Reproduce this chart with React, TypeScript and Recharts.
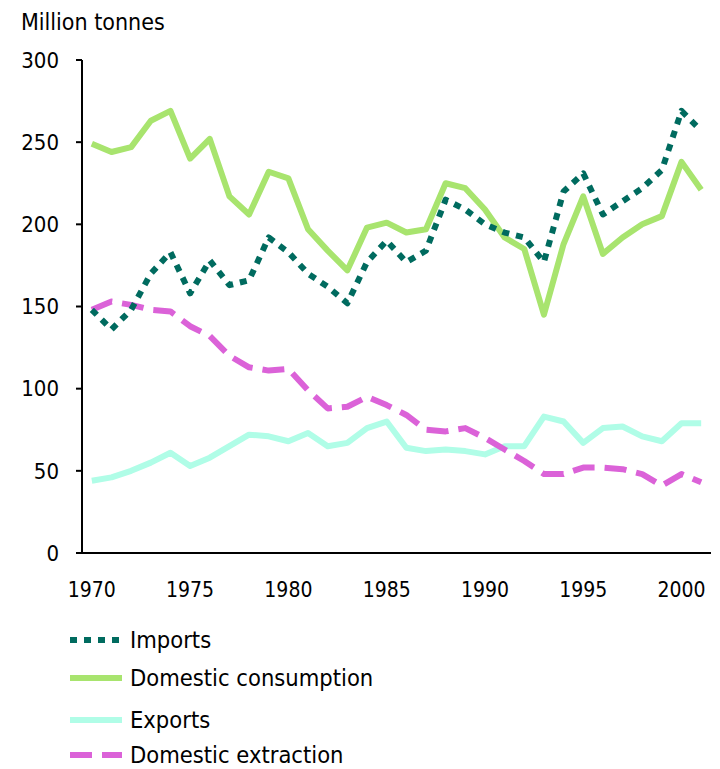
import { LineChart, Line, XAxis, YAxis } from "recharts";

const years = [
  1970, 1971, 1972, 1973, 1974, 1975, 1976, 1977, 1978, 1979, 1980, 1981, 1982, 1983, 1984, 1985,
  1986, 1987, 1988, 1989, 1990, 1991, 1992, 1993, 1994, 1995, 1996, 1997, 1998, 1999, 2000, 2001,
];
const imports = [
  148, 136, 148, 170, 183, 158, 178, 163, 166, 192, 183, 170, 162, 152, 177, 190,
  177, 184, 215, 209, 200, 195, 192, 177, 220, 231, 206, 214, 222, 233, 269, 257,
];
const domesticConsumption = [
  249, 244, 247, 263, 269, 240, 252, 217, 206, 232, 228, 197, 184, 172, 198, 201,
  195, 197, 225, 222, 209, 192, 185, 145, 188, 217, 182, 192, 200, 205, 238, 221,
];
const exports = [
  44, 46, 50, 55, 61, 53, 58, 65, 72, 71, 68, 73, 65, 67, 76, 80,
  64, 62, 63, 62, 60, 65, 65, 83, 80, 67, 76, 77, 71, 68, 79, 79,
];
const domesticExtraction = [
  148, 153, 151, 148, 147, 138, 132, 120, 113, 111, 112, 99, 88, 89, 95, 90,
  84, 75, 74, 76, 70, 63, 56, 48, 48, 52, 52, 51, 48, 41, 48, 43,
];

const yTicks = [0, 50, 100, 150, 200, 250, 300];
const labelYears = [1970, 1975, 1980, 1985, 1990, 1995, 2000];
// tick marks sit between the years
const yearEdges = [...years.map((y) => y - 0.5), 2001.5];

const data = years.map((year, i) => ({
  year,
  imports: imports[i],
  consumption: domesticConsumption[i],
  exports: exports[i],
  extraction: domesticExtraction[i],
}));

const FONT = '"DejaVu Sans Condensed", "DejaVu Sans", sans-serif';

const series = [
  { key: "imports", name: "Imports", color: "#006b5f", dash: "7 7" },
  { key: "consumption", name: "Domestic consumption", color: "#a8e46e", dash: undefined },
  { key: "exports", name: "Exports", color: "#b0fde7", dash: undefined },
  { key: "extraction", name: "Domestic extraction", color: "#db62d8", dash: "22 10" },
];
const legendCenters = [640, 678, 720, 755];
const drawOrder = ["consumption", "exports", "extraction", "imports"];

export default function App() {
  const axisStroke = { stroke: "#000", strokeWidth: 2 };

  return (
    <div
      style={{
        position: "absolute",
        left: 0,
        top: 0,
        width: 720,
        height: 769,
        background: "#fff",
        fontFamily: FONT,
        color: "#000",
      }}
    >
      <div style={{ position: "absolute", left: 21, top: 9, fontSize: 23, lineHeight: "27px" }}>
        Million tonnes
      </div>

      <LineChart
        width={720}
        height={620}
        data={data}
        margin={{ top: 60, right: 9, bottom: 20, left: 12 }}
      >
        <XAxis
          xAxisId="edges"
          dataKey="year"
          type="number"
          domain={[1969.5, 2001.5]}
          ticks={yearEdges}
          interval={0}
          tick={false}
          tickSize={8}
          tickLine={axisStroke}
          axisLine={axisStroke}
          height={10}
        />
        <XAxis
          xAxisId="labels"
          dataKey="year"
          type="number"
          domain={[1969.5, 2001.5]}
          ticks={labelYears}
          interval={0}
          axisLine={false}
          tickLine={false}
          tickSize={0}
          tickMargin={19}
          height={37}
          tick={{ fill: "#000", fontSize: 21, fontFamily: FONT }}
        />
        <YAxis
          type="number"
          domain={[0, 300]}
          ticks={yTicks}
          interval={0}
          width={70}
          tickSize={6}
          tickMargin={17}
          tickLine={axisStroke}
          axisLine={axisStroke}
          tick={{ fill: "#000", fontSize: 22, fontFamily: FONT }}
        />
        {drawOrder.map((k) => {
          const s = series.find((x) => x.key === k)!;
          return (
            <Line
              key={s.key}
              xAxisId="edges"
              type="linear"
              dataKey={s.key}
              name={s.name}
              stroke={s.color}
              strokeWidth={6}
              strokeDasharray={s.dash}
              strokeLinejoin="round"
              dot={false}
              activeDot={false}
              isAnimationActive={false}
            />
          );
        })}
      </LineChart>

      {series.map((s, i) => (
        <div
          key={s.key}
          style={{
            position: "absolute",
            left: 70,
            top: legendCenters[i] - 14,
            height: 28,
            display: "flex",
            alignItems: "center",
            fontSize: 23.5,
            lineHeight: "28px",
            whiteSpace: "nowrap",
          }}
        >
          <svg width={52} height={8} style={{ display: "block" }}>
            <line x1={0} y1={4} x2={52} y2={4} stroke={s.color} strokeWidth={6} strokeDasharray={s.dash} />
          </svg>
          <span style={{ marginLeft: 8 }}>{s.name}</span>
        </div>
      ))}
    </div>
  );
}
